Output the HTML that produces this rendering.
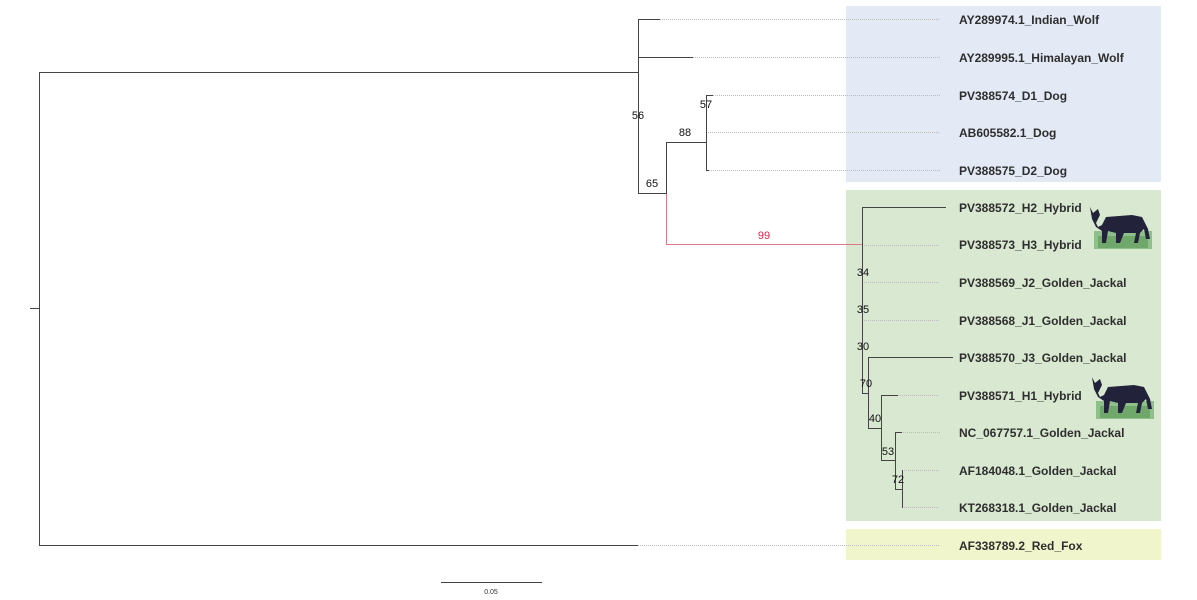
<!DOCTYPE html>
<html><head><meta charset="utf-8"><style>
html,body{margin:0;padding:0;background:#fff;}
svg{display:block;}
text{font-family:"Liberation Sans",sans-serif;}
.lb{font-size:12px;font-weight:bold;fill:#2e2e2e;}
.bs{font-size:11px;fill:#111;}
</style></head><body>
<svg width="1197" height="600" viewBox="0 0 1197 600" xmlns="http://www.w3.org/2000/svg">
<defs>
<g id="wolf">
<rect x="8" y="28" width="58" height="18" fill="#8fbf8a"/>
<rect x="12" y="33" width="50" height="12" fill="#6fa86a"/>
<path d="M4 4 L7 10 L12 6 L14 12 L10 20 L12 24 L16 22 L20 14 L46 12 L56 14 L62 26 L64 36 L60 36 L58 26 L54 30 L52 40 L48 40 L50 30 L38 30 L34 40 L30 40 L30 30 L22 28 L20 40 L16 40 L16 28 L10 24 L6 16 Z" fill="#22223a"/>
</g>
</defs>
<rect x="846" y="6" width="315" height="176" fill="#e3eaf5"/>
<rect x="846" y="190" width="315" height="331" fill="#d9e8d0"/>
<rect x="846" y="529" width="315" height="31" fill="#f1f5cc"/>
<g stroke="#bbb" stroke-width="1" stroke-dasharray="1,1" fill="none">
<line x1="660" y1="19.5" x2="940" y2="19.5"/>
<line x1="693" y1="57.5" x2="940" y2="57.5"/>
<line x1="713" y1="95.5" x2="940" y2="95.5"/>
<line x1="706" y1="132.5" x2="940" y2="132.5"/>
<line x1="709" y1="170.5" x2="940" y2="170.5"/>
<line x1="862" y1="245.5" x2="940" y2="245.5"/>
<line x1="862" y1="282.5" x2="940" y2="282.5"/>
<line x1="862" y1="320.5" x2="940" y2="320.5"/>
<line x1="898" y1="395.5" x2="940" y2="395.5"/>
<line x1="895" y1="432.5" x2="940" y2="432.5"/>
<line x1="902" y1="470.5" x2="940" y2="470.5"/>
<line x1="902" y1="507.5" x2="940" y2="507.5"/>
<line x1="638" y1="545.5" x2="940" y2="545.5"/>
</g>
<g stroke="#444" stroke-width="1" fill="none">
<line x1="30" y1="308.5" x2="39" y2="308.5"/>
<line x1="39.5" y1="72" x2="39.5" y2="546"/>
<line x1="39" y1="72.5" x2="638" y2="72.5"/>
<line x1="39" y1="545.5" x2="638" y2="545.5"/>
<line x1="638.5" y1="19" x2="638.5" y2="194"/>
<line x1="638" y1="19.5" x2="660" y2="19.5"/>
<line x1="638" y1="57.5" x2="693" y2="57.5"/>
<line x1="638" y1="193.5" x2="666" y2="193.5"/>
<line x1="666.5" y1="142" x2="666.5" y2="194"/>
<line x1="666" y1="142.5" x2="706" y2="142.5"/>
<line x1="706.5" y1="95" x2="706.5" y2="171"/>
<line x1="706" y1="95.5" x2="713" y2="95.5"/>
<line x1="706" y1="170.5" x2="709" y2="170.5"/>
<line x1="862.5" y1="207" x2="862.5" y2="394"/>
<line x1="862" y1="207.5" x2="946" y2="207.5"/>
<line x1="862" y1="393.5" x2="868" y2="393.5"/>
<line x1="868.5" y1="357" x2="868.5" y2="429"/>
<line x1="868" y1="357.5" x2="953" y2="357.5"/>
<line x1="868" y1="428.5" x2="881" y2="428.5"/>
<line x1="881.5" y1="395" x2="881.5" y2="461"/>
<line x1="881" y1="395.5" x2="898" y2="395.5"/>
<line x1="881" y1="460.5" x2="895" y2="460.5"/>
<line x1="895.5" y1="432" x2="895.5" y2="490"/>
<line x1="895" y1="432.5" x2="902" y2="432.5"/>
<line x1="895" y1="489.5" x2="902" y2="489.5"/>
<line x1="902.5" y1="470" x2="902.5" y2="508"/>
<line x1="441" y1="582.5" x2="542" y2="582.5"/>
</g>
<g stroke="#d9788a" stroke-width="1" fill="none">
<line x1="666.5" y1="194" x2="666.5" y2="245"/>
<line x1="666" y1="244.5" x2="862" y2="244.5"/>
</g>
<g class="bs" text-anchor="middle">
<text x="638" y="119">56</text>
<text x="706" y="108">57</text>
<text x="685" y="136">88</text>
<text x="652" y="187">65</text>
<text x="764" y="239" style="fill:#e0204a">99</text>
<text x="863" y="276">34</text>
<text x="863" y="313">35</text>
<text x="863" y="350">30</text>
<text x="866" y="387">70</text>
<text x="875" y="422">40</text>
<text x="888" y="455">53</text>
<text x="898" y="483">72</text>
</g>
<text x="491" y="594" text-anchor="middle" style="font-size:7px;fill:#333">0.05</text>
<g class="lb">
<text x="959" y="24">AY289974.1_Indian_Wolf</text>
<text x="959" y="62">AY289995.1_Himalayan_Wolf</text>
<text x="959" y="100">PV388574_D1_Dog</text>
<text x="959" y="137">AB605582.1_Dog</text>
<text x="959" y="175">PV388575_D2_Dog</text>
<text x="959" y="212">PV388572_H2_Hybrid</text>
<text x="959" y="249">PV388573_H3_Hybrid</text>
<text x="959" y="287">PV388569_J2_Golden_Jackal</text>
<text x="959" y="325">PV388568_J1_Golden_Jackal</text>
<text x="959" y="362">PV388570_J3_Golden_Jackal</text>
<text x="959" y="400">PV388571_H1_Hybrid</text>
<text x="959" y="437">NC_067757.1_Golden_Jackal</text>
<text x="959" y="475">AF184048.1_Golden_Jackal</text>
<text x="959" y="512">KT268318.1_Golden_Jackal</text>
<text x="959" y="550">AF338789.2_Red_Fox</text>
</g>
<use href="#wolf" x="1086" y="203"/>
<use href="#wolf" x="1088" y="373"/>
</svg>
</body></html>
